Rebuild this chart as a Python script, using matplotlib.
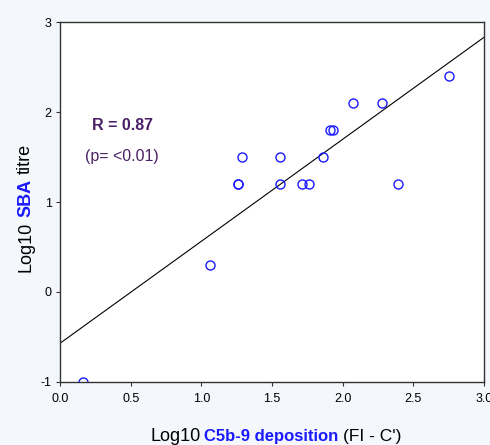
import matplotlib
matplotlib.use("Agg")
import matplotlib.pyplot as plt

plt.rcParams["font.family"] = ["Liberation Sans", "DejaVu Sans"]
plt.rcParams["axes.unicode_minus"] = False

# data
c5b9_dep = [0.16, 1.06, 1.26, 1.26, 1.29, 1.56, 1.56, 1.71, 1.76, 1.86,
            1.91, 1.93, 2.07, 2.28, 2.39, 2.75]
sba_titre = [-1.0, 0.3, 1.2, 1.2, 1.5, 1.5, 1.2, 1.2, 1.2, 1.5,
             1.8, 1.8, 2.1, 2.1, 1.2, 2.4]
fit_x = [0.0, 3.0]
fit_y = [-0.57, 2.83]
x_ticks = [0.0, 0.5, 1.0, 1.5, 2.0, 2.5, 3.0]
y_ticks = [-1, 0, 1, 2, 3]

purple = "#4b2066"
blue = "#1a1aff"

fig = plt.figure(figsize=(4.9, 4.45), dpi=100, facecolor="#f4f7fc")
ax = fig.add_axes([60 / 490, 1 - 382 / 445, 424 / 490, 360 / 445])
ax.set_facecolor("white")

ax.plot(fit_x, fit_y, color="black", lw=0.8)
ax.plot(c5b9_dep, sba_titre, "o", mfc="none", mec=blue, mew=1.0, ms=6.5)

ax.set_xlim(0, 3)
ax.set_ylim(-1, 3)
ax.set_xticks(x_ticks)
ax.set_xticklabels([f"{v:.1f}" for v in x_ticks])
ax.set_yticks(y_ticks)
ax.tick_params(direction="out", length=3, width=0.8, labelsize=9,
               colors="#333333", labelcolor="black")
ax.tick_params(axis="x", pad=5)
ax.tick_params(axis="y", pad=3)
for sp in ax.spines.values():
    sp.set_color("#333333")
    sp.set_linewidth(1.0)

# stats annotation, positions in pixels from the top-left corner
fig.text(122 / 490, 1 - 126 / 445, "R = 0.87", fontsize=11.5,
         fontweight="bold", color=purple, ha="center", va="center")
fig.text(122 / 490, 1 - 156 / 445, "(p= <0.01)", fontsize=11.5,
         color=purple, ha="center", va="center")

renderer = fig.canvas.get_renderer()


def mixed_label(pieces, x0, y0, rotation=0, gap=5):
    # pieces: (text, color, weight, size); positions in pixels
    pos = 0
    for s, col, wt, size in pieces:
        if rotation:
            t = fig.text(x0 / 490, (445 - y0 + pos) / 445, s, color=col,
                         fontweight=wt, fontsize=size,
                         rotation=90, rotation_mode="anchor",
                         ha="left", va="baseline")
            pos += t.get_window_extent(renderer).height + gap
        else:
            t = fig.text((x0 + pos) / 490, 1 - y0 / 445, s, color=col,
                         fontweight=wt, fontsize=size,
                         ha="left", va="baseline")
            pos += t.get_window_extent(renderer).width + gap


mixed_label([("Log10", "black", "normal", 13),
             ("C5b-9 deposition", blue, "bold", 12),
             ("(FI - C')", "black", "normal", 12.5)], 150, 441, gap=4)
mixed_label([("Log10", "black", "normal", 13),
             ("SBA", blue, "bold", 13),
             ("titre", "black", "normal", 13)], 30, 272, rotation=90)

fig.savefig("out.png", dpi=100, facecolor=fig.get_facecolor())
